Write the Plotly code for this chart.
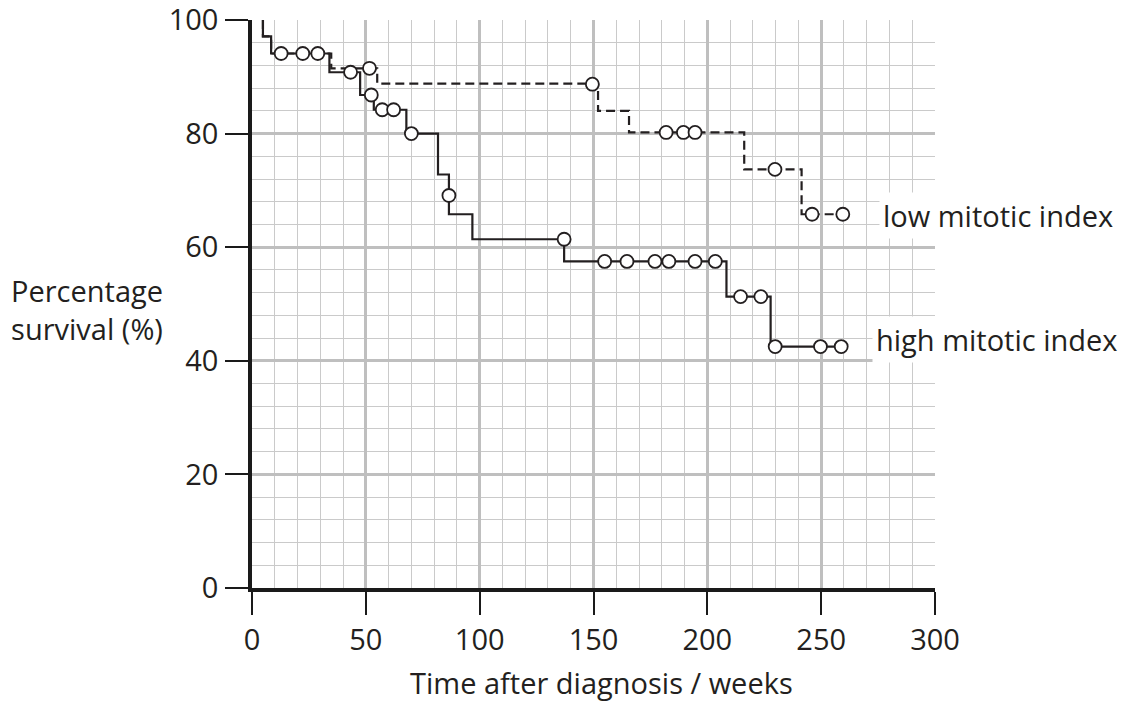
import plotly.graph_objects as go

# ---- data ----
# step curves: (time in weeks, survival % after the step)
low_step_t = [4.8, 4.8, 8.4, 34.8, 55.0, 152.0, 165.6, 216.2, 241.4, 259.5]
low_step_s = [100, 97.1, 94.1, 91.5, 88.8, 84.0, 80.2, 73.7, 65.8, 65.8]

high_step_t = [4.8, 4.8, 8.4, 34.0, 47.5, 53.5, 67.8, 81.7, 86.5, 96.8, 137.1, 208.4, 227.8, 258.8]
high_step_s = [100, 97.1, 94.1, 90.8, 86.8, 84.2, 80.0, 72.8, 65.8, 61.4, 57.5, 51.3, 42.5, 42.5]

# censored observations (open circles)
low_cens_t = [51.6, 149.5, 181.9, 189.5, 194.6, 229.7, 246.0, 259.5]
low_cens_s = [91.5, 88.7, 80.2, 80.2, 80.2, 73.7, 65.8, 65.8]

high_cens_t = [12.8, 22.3, 28.9, 43.3, 52.4, 57.2, 62.2, 70.0, 86.5, 137.1,
               154.9, 164.7, 177.0, 183.1, 194.6, 203.5, 214.6, 223.5, 229.8, 249.7, 258.8]
high_cens_s = [94.1, 94.1, 94.1, 90.8, 86.8, 84.2, 84.2, 80.0, 69.1, 61.4,
               57.5, 57.5, 57.5, 57.5, 57.5, 57.5, 51.3, 51.3, 42.5, 42.5, 42.5]

x_ticks = [0, 50, 100, 150, 200, 250, 300]
y_ticks = [0, 20, 40, 60, 80, 100]
labels = ["low mitotic index", "high mitotic index"]
x_title = "Time after diagnosis / weeks"
y_title = "Percentage<br>survival (%)"

TXT = "#231f20"
FONT = "Open Sans"
FS = 29

fig = go.Figure()
fig.add_trace(go.Scatter(x=low_step_t, y=low_step_s, mode="lines", line_shape="hv",
                         line=dict(color=TXT, width=2.2, dash="9px,5px"), hoverinfo="skip"))
fig.add_trace(go.Scatter(x=high_step_t, y=high_step_s, mode="lines", line_shape="hv",
                         line=dict(color=TXT, width=2.2), hoverinfo="skip"))
marker = dict(symbol="circle", size=13, color="white", line=dict(color=TXT, width=1.8))
fig.add_trace(go.Scatter(x=low_cens_t, y=low_cens_s, mode="markers", marker=marker))
fig.add_trace(go.Scatter(x=high_cens_t, y=high_cens_s, mode="markers", marker=marker))

axis_common = dict(
    showline=True, linecolor="#1a1a1a", linewidth=3.5,
    ticks="outside", ticklen=23, tickwidth=2, tickcolor="#1a1a1a",
    tickfont=dict(family=FONT, size=FS, color=TXT),
    showgrid=True, gridcolor="#bfbfbf", gridwidth=3,
    zeroline=False, automargin=False, ticklabeloverflow="allow",
)

fig.update_xaxes(range=[0, 300], tickvals=x_ticks, ticklabelstandoff=0,
                 minor=dict(dtick=10, showgrid=True, gridcolor="#cacaca", gridwidth=1.4, ticks=""),
                 **axis_common)
fig.update_yaxes(range=[0, 100], tickvals=y_ticks, ticklabelstandoff=1,
                 minor=dict(dtick=4, showgrid=True, gridcolor="#cacaca", gridwidth=1.4, ticks=""),
                 **axis_common)

ann_font = dict(family=FONT, size=FS, color=TXT)
fig.add_annotation(x=275.4, y=65.5, xref="x", yref="y", text=labels[0], showarrow=False,
                   xanchor="left", yanchor="middle", bgcolor="white", borderpad=3, font=ann_font)
fig.add_annotation(x=272.5, y=43.7, xref="x", yref="y", text=labels[1], showarrow=False,
                   xanchor="left", yanchor="middle", bgcolor="white", borderpad=3, font=ann_font)
fig.add_annotation(x=0.512, y=-0.167, xref="paper", yref="paper", text=x_title, showarrow=False,
                   xanchor="center", yanchor="middle", font=ann_font)
fig.add_annotation(x=-0.241, y=0.491, xref="paper", yref="paper", text=y_title, showarrow=False,
                   xanchor="center", yanchor="middle", align="center", font=ann_font)

fig.update_layout(
    width=1127, height=704,
    margin=dict(l=244, r=200, t=12, b=124, autoexpand=False),
    paper_bgcolor="white", plot_bgcolor="white",
    showlegend=False,
    font=dict(family=FONT, color=TXT),
)

fig.write_html("out.html")
